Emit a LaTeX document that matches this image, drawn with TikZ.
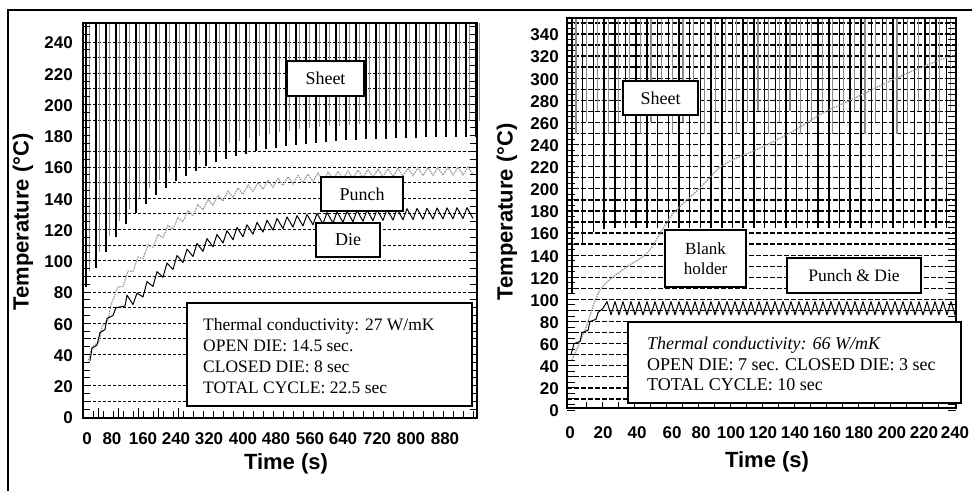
\documentclass[tikz,border=0pt]{standalone}
\usepackage{fontspec}
\setmainfont{Liberation Serif}
\setsansfont{Liberation Sans}
\begin{document}
\begin{tikzpicture}[x=1pt,y=-1pt,
  declare function={yl(\t)=417-1.5625*\t; yr(\t)=410-1.106*\t;},
  ax/.style={line width=1.2pt},
  tk/.style={line width=0.9pt},
  gridl/.style={line width=1pt, dash pattern=on 3pt off 2pt},
  gridr/.style={line width=1.3pt, dash pattern=on 4.5pt off 2.5pt},
  sheet/.style={line width=1.3pt},
  sheetg/.style={line width=1pt, black!45},
  die/.style={line width=1pt, line join=round},
  punch/.style={line width=1.2pt, black!40, dash pattern=on 1.5pt off 1pt},
  lab/.style={draw, line width=1.3pt, fill=white, inner sep=0pt, font=\fontsize{18}{20}\selectfont},
  ylab/.style={font=\sffamily\bfseries\fontsize{17}{17}\selectfont, inner sep=0pt},
  ylabr/.style={font=\sffamily\bfseries\fontsize{17}{17}\selectfont, inner sep=0pt},
  axtitle/.style={font=\sffamily\bfseries\fontsize{22}{22}\selectfont, inner sep=0pt},
  info/.style={font=\fontsize{17.5}{21}\selectfont, align=left, inner sep=0pt, anchor=west}]
\useasboundingbox (0,0) rectangle (972,491);
% outer frame
\draw[line width=2.5pt] (8,491) -- (8,10) -- (972,10);

% ================= LEFT PLOT =================
\foreach \T in {10,20,40,50,...,170,190,200,...,240}
  \draw[gridl] (83,{yl(\T)}) -- (477,{yl(\T)});
\foreach \i in {0,...,39}{
  \pgfmathsetmacro\xx{86+10*\i}
  \pgfmathsetmacro\tb{180-98*exp(-(\xx-85)/75)}
  \draw[sheet] (\xx,23) -- (\xx,{yl(\tb)});
  \draw[sheetg] ({\xx+3},23) -- ({\xx+3},{yl(\tb+10)});
}
% punch
\draw[punch] (88,{yl(35)}) -- (92,{yl(45)}) -- (99,{yl(48)}) -- (102,{yl(58)}) -- (108,{yl(62)}) -- (111,{yl(72)})
  \foreach \x in {113,123,...,463} { -- ({\x+5},{yl(158-83*exp(-(\x+5-113)/70)+2.5)}) -- ({\x+10},{yl(158-83*exp(-(\x+10-113)/70)-2.5)}) };
% die
\draw[die] (90,{yl(36)}) -- (92,{yl(44)}) -- (97,{yl(46)}) -- (100,{yl(54)}) -- (105,{yl(56)}) -- (107,{yl(63)}) -- (113,{yl(65)})
  -- (116,{yl(70)}) -- (125,{yl(71)}) -- (127,{yl(78)}) -- (133,{yl(72)})
  \foreach \x in {133,143,...,463} { -- ({\x+4},{yl(131-61*exp(-(\x+4-130)/70)+3.5)}) -- ({\x+10},{yl(131-61*exp(-(\x+10-130)/70)-3.5)}) };
% axes box and ticks
\draw[ax] (83,23) rectangle (477,418);
\foreach \T in {0,5,...,250}{
  \draw[tk] (83,{yl(\T)}) -- (90,{yl(\T)});
  \draw[tk] (477,{yl(\T)}) -- (470,{yl(\T)});
}
\foreach \x in {93,103,...,473}
  \draw[tk] (\x,418) -- (\x,411);
\foreach \x in {98,118,...,178}
  \draw[tk] (\x,418) -- (\x,408);
% labels
\node[lab, minimum width=77pt, minimum height=35pt] (lsheet) at (325.5,78.5) {Sheet};
\node[lab, minimum width=82pt, minimum height=34pt] (lpunch) at (362,194) {Punch};
\node[lab, minimum width=64pt, minimum height=34pt] (ldie) at (348,240) {Die};
\node[draw, line width=1.3pt, fill=white, minimum width=285pt, minimum height=103pt] (linfo) at (329.5,354.5) {};
\node[info] (linfotext) at (203,356) {Thermal conductivity: 27 W/mK\\OPEN DIE: 14.5 sec.\\CLOSED DIE: 8 sec\\TOTAL CYCLE: 22.5 sec};
% tick labels
\foreach \T in {0,20,...,240}
  \node[ylab, anchor=east] (ly\T) at (73,{yl(\T)+1}) {\T};
\foreach \v/\x in {0/87,80/112,160/143,240/176,320/209,400/243,480/276,560/310,640/343,720/377,800/411,880/445}
  \node[ylab] (lx\v) at (\x,439) {\v};
\node[axtitle] (ltime) at (286,464) {Time (s)};
\node[axtitle, rotate=90] (ltemp) at (23,222) {Temperature (°C)};

% ================= RIGHT PLOT =================
\foreach \T in {10,20,...,350}
  \draw[gridr] (567,{yr(\T)}) -- (956,{yr(\T)});
\foreach \i in {0,...,35}{
  \pgfmathsetmacro\xx{572+10.7*\i}
  \pgfmathsetmacro\tb{165-60*exp(-(\xx-572)/8)}
  \draw[sheet, line width=1.5pt] (\xx,18) -- (\xx,{yr(\tb)});
  \draw[sheetg, line width=1.2pt] ({\xx+4},18) -- ({\xx+4},{yr(250+10*mod(\i,3))});
}
% blank holder
\draw[punch, line width=1.3pt] plot[smooth] coordinates {(572,360) (585,330) (600,290) (625,268) (648,252) (672,215) (700,188) (723,165) (760,148) (790,133) (823,113) (857,97) (903,75) (940,60) (955,55)};
% punch & die
\draw[die] (571,{yr(50)}) -- (574,{yr(60)}) -- (580,{yr(62)}) -- (582,{yr(70)}) -- (588,{yr(72)}) -- (590,{yr(80)}) -- (596,{yr(82)}) -- (598,{yr(88)}) -- (603,{yr(92)})
  \foreach \x in {603,611,...,947} { -- ({\x+4},{yr(98)}) -- ({\x+8},{yr(86)}) };
% axes box and ticks
\draw[ax] (567,18) rectangle (956,408);
\foreach \T in {0,5,...,350}{
  \draw[tk] (567,{yr(\T)}) -- (575,{yr(\T)});
  \draw[tk] (956,{yr(\T)}) -- (948,{yr(\T)});
}
\foreach \x in {586,602,...,950}
  \draw[tk] (\x,408) -- (\x,402);
% labels
\node[lab, minimum width=75pt, minimum height=34pt] (rsheet) at (660.5,98) {Sheet};
\node[lab, minimum width=81pt, minimum height=57pt, align=center, font=\fontsize{17}{20}\selectfont] (rblank) at (705.5,258.5) {Blank\\holder};
\node[lab, minimum width=134pt, minimum height=35pt, font=\fontsize{17.5}{20}\selectfont] (rpd) at (854,275.5) {Punch \& Die};
\node[draw, line width=1.3pt, fill=white, minimum width=333pt, minimum height=81pt] (rinfo) at (794.5,362.5) {};
\node[info, font=\fontsize{18}{20.5}\selectfont] (rinfotext) at (647,364) {\textit{Thermal conductivity: 66 W/mK}\\OPEN DIE: 7 sec. CLOSED DIE: 3 sec\\TOTAL CYCLE: 10 sec};
% tick labels
\foreach \T in {0,20,...,340}
  \node[ylabr, anchor=east] (ry\T) at (559,{yr(\T)+1}) {\T};
\foreach \v/\x in {0/570,20/603,40/637,60/672,80/701,100/731,120/763,140/795,160/827,180/859,200/892,220/924,240/955}
  \node[ylabr] (rx\v) at (\x,433) {\v};
\node[axtitle] (rtime) at (767,462) {Time (s)};
\node[axtitle, rotate=90] (rtemp) at (507,212) {Temperature (°C)};
\end{tikzpicture}
\end{document}
